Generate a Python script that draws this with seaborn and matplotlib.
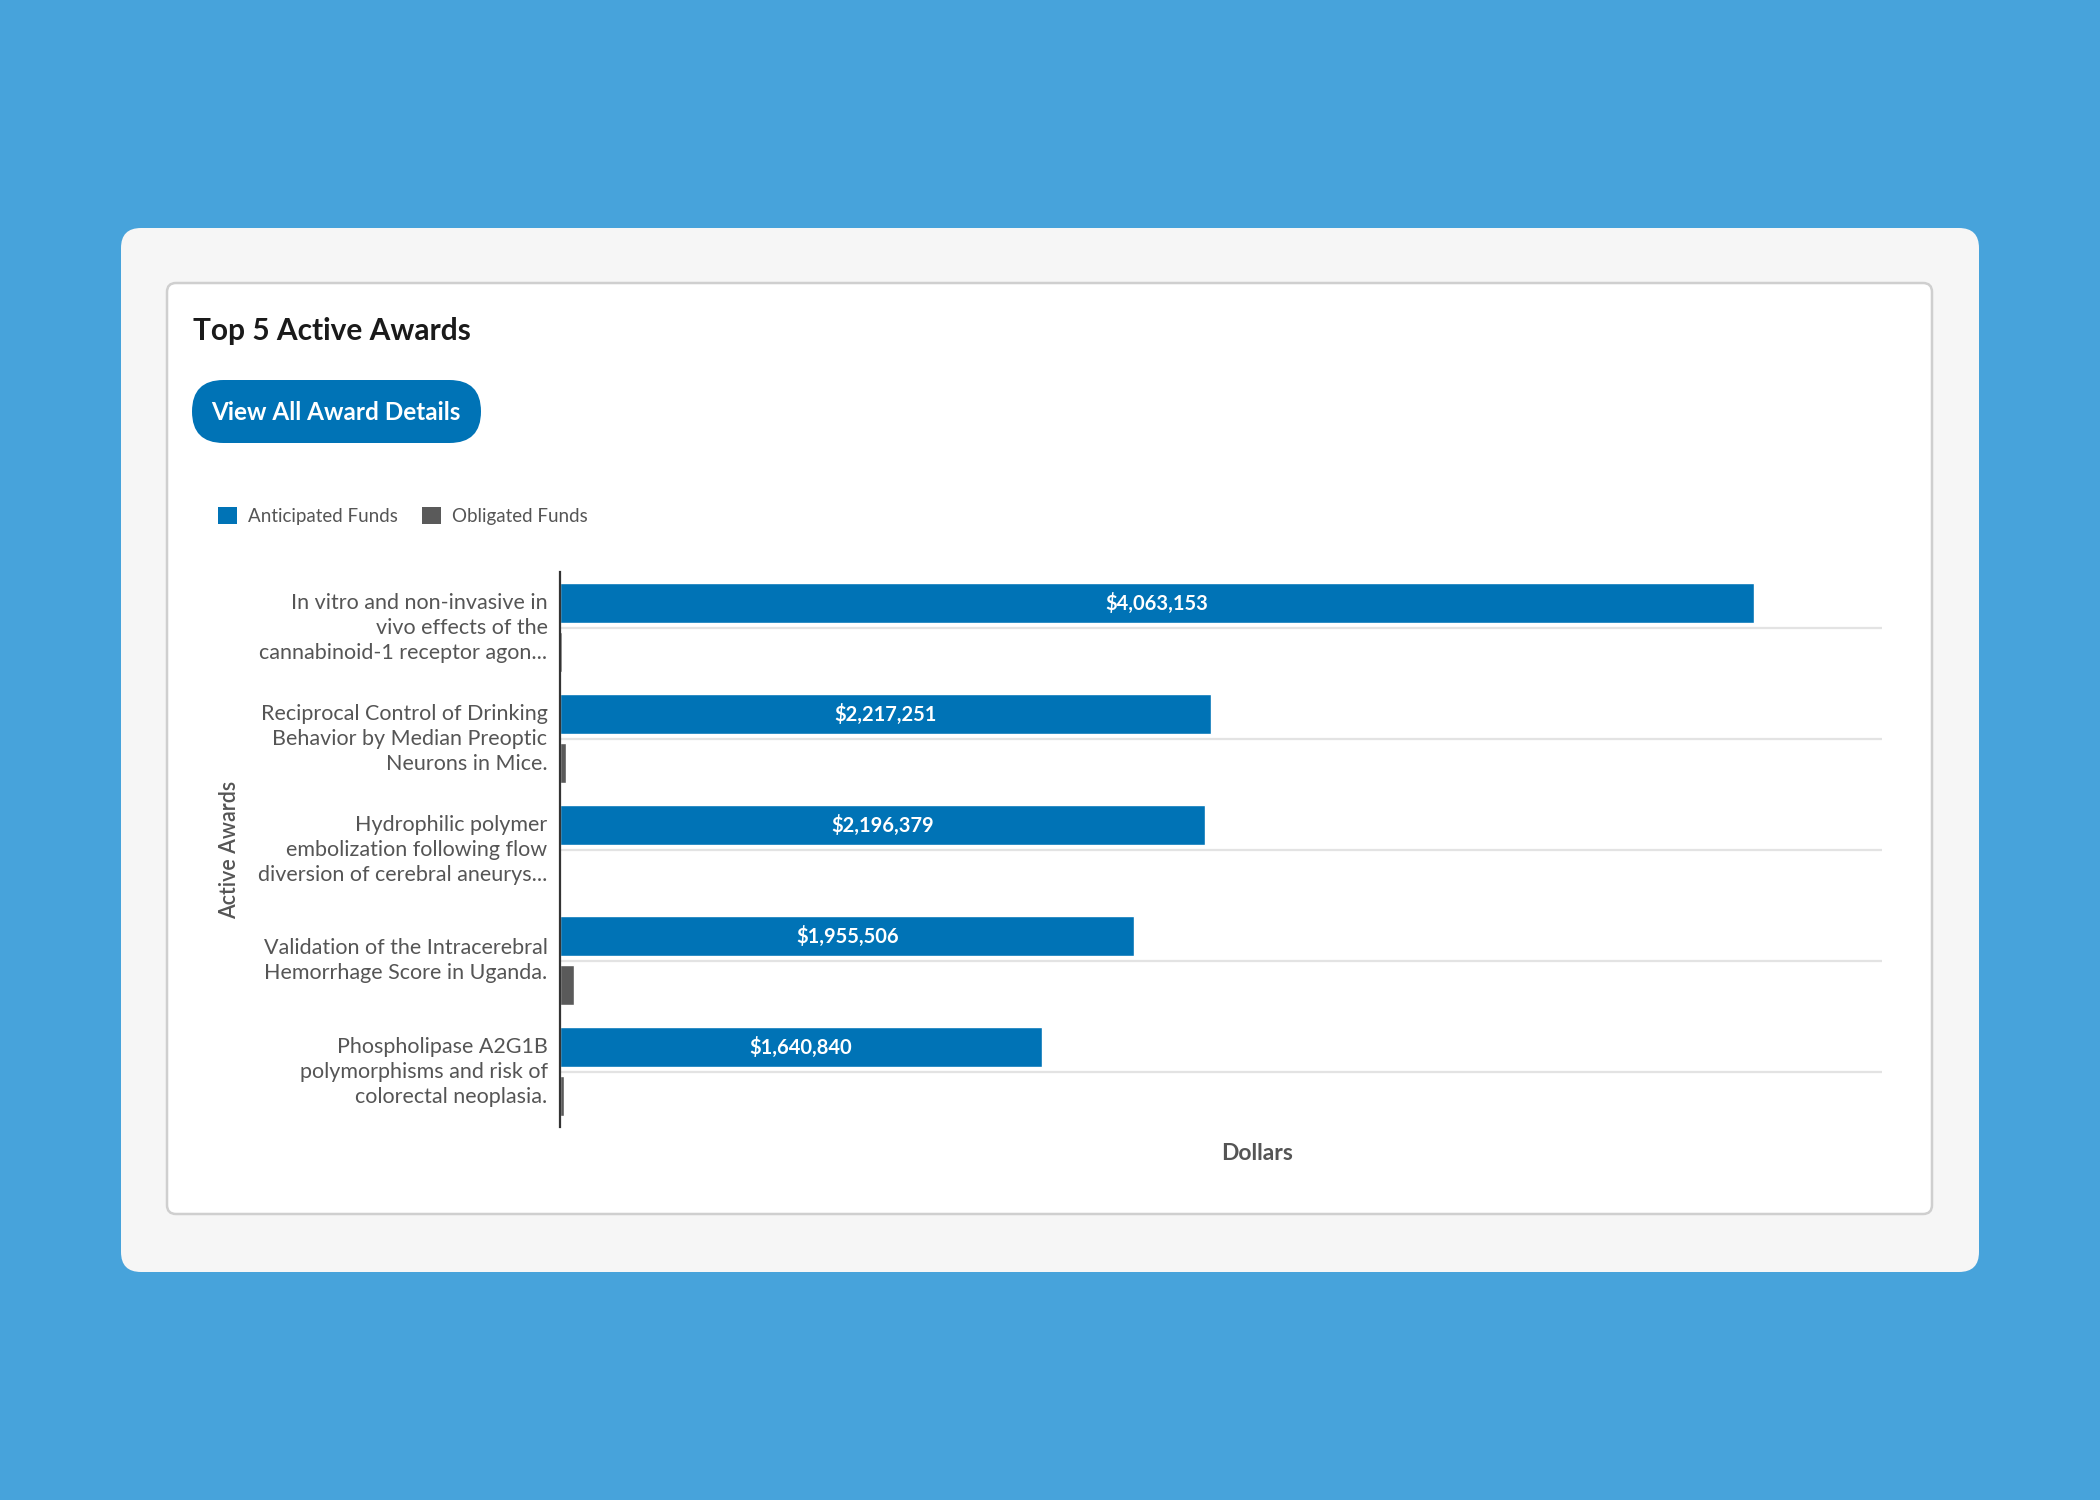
import matplotlib
matplotlib.use("Agg")
import matplotlib.pyplot as plt
from matplotlib.patches import FancyBboxPatch, Patch
from matplotlib.transforms import ScaledTranslation
import seaborn as sns
import pandas as pd

# ---------------- data ----------------
awards = [
    "In vitro and non-invasive in\nvivo effects of the\ncannabinoid-1 receptor agon...",
    "Reciprocal Control of Drinking\nBehavior by Median Preoptic\nNeurons in Mice.",
    "Hydrophilic polymer\nembolization following flow\ndiversion of cerebral aneurys...",
    "Validation of the Intracerebral\nHemorrhage Score in Uganda.",
    "Phospholipase A2G1B\npolymorphisms and risk of\ncolorectal neoplasia.",
]
anticipated = [4063153, 2217251, 2196379, 1955506, 1640840]
obligated = [6000, 20000, 5000, 46000, 14000]
series_names = ["Anticipated Funds", "Obligated Funds"]
title = "Top 5 Active Awards"
button_text = "View All Award Details"
x_title = "Dollars"
y_title = "Active Awards"

# ---------------- style ----------------
sns.set_theme(style="white")
FONT = ["Lato", "DejaVu Sans"]
plt.rcParams["font.family"] = FONT

BLUE = "#0073B6"
GRAY = "#5A5A5A"
BG = "#47A3DB"
CARD = "#F6F6F6"
TXT = "#555555"

W, H = 2100, 1500
fig = plt.figure(figsize=(21, 15), dpi=100)
fig.patch.set_facecolor(BG)

# background layer in pixel coords
bg = fig.add_axes([0, 0, 1, 1], zorder=0)
bg.set_xlim(0, W)
bg.set_ylim(H, 0)
bg.axis("off")
bg.patch.set_alpha(0)

bg.add_patch(FancyBboxPatch((121, 228), 1858, 1044,
                            boxstyle="round,pad=0,rounding_size=20",
                            facecolor=CARD, edgecolor="none"))
bg.add_patch(FancyBboxPatch((167, 283), 1765, 931,
                            boxstyle="round,pad=0,rounding_size=9",
                            facecolor="white", edgecolor="#CFCFCF", linewidth=1.8))
bg.add_patch(FancyBboxPatch((192, 380), 289, 63,
                            boxstyle="round,pad=0,rounding_size=31.5",
                            facecolor=BLUE, edgecolor="none"))
bg.text(193, 331, title, fontsize=21.5, fontweight="bold", color="#1A1A1A",
        ha="left", va="center")
bg.text(336, 412, button_text, fontsize=17.5, fontweight="bold", color="white",
        ha="center", va="center")
bg.text(230, 850, y_title, fontsize=15.5, fontweight="semibold", color=TXT,
        rotation=90, ha="center", va="center")
bg.text(1257, 1153, x_title, fontsize=16.5, fontweight="bold", color=TXT,
        ha="center", va="center")

# ---------------- chart ----------------
df = pd.DataFrame({
    "award": awards * 2,
    "value": anticipated + obligated,
    "series": [series_names[0]] * len(awards) + [series_names[1]] * len(awards),
})

ax = fig.add_axes([560 / W, 1 - 1127 / H, (1882 - 560) / W, (1127 - 572) / H], zorder=2)
ax.patch.set_alpha(0)
sns.barplot(data=df, y="award", x="value", hue="series", orient="h",
            palette=[BLUE, GRAY], width=0.88, gap=0.18, ax=ax,
            legend=False, saturation=1, order=awards, hue_order=series_names)

ax.set_xlim(0, 4500000)
ax.set_ylim(4.5, -0.5)
ax.set_xlabel("")
ax.set_ylabel("")
ax.set_xticks([])
ax.set_yticks(range(len(awards)))
ax.set_yticklabels(awards, fontsize=15.5, color=TXT, linespacing=1.3)
ax.tick_params(axis="y", length=0, pad=9)
shift = ScaledTranslation(0, 4 / 100, fig.dpi_scale_trans)
for lbl in ax.get_yticklabels():
    lbl.set_transform(lbl.get_transform() + shift)
ax.grid(axis="y", color="#E3E3E3", linewidth=1.6)
ax.set_axisbelow(True)
for s in ["top", "right", "bottom"]:
    ax.spines[s].set_visible(False)
ax.spines["left"].set_color("#333333")
ax.spines["left"].set_linewidth(1.6)

ax.bar_label(ax.containers[0], labels=[f"${v:,}" for v in anticipated],
             label_type="center", color="white", fontsize=14.5, fontweight="bold")

# legend
handles = [Patch(facecolor=BLUE, edgecolor="none"), Patch(facecolor=GRAY, edgecolor="none")]
fig.legend(handles, series_names, loc="center left",
           bbox_to_anchor=(218 / W, 1 - 516 / H), ncol=2, frameon=False,
           fontsize=13.5, labelcolor=TXT, handlelength=1.0, handleheight=1.0,
           handletextpad=0.6, columnspacing=1.3, borderpad=0, borderaxespad=0)

fig.savefig("out.png", dpi=100, facecolor=BG)
